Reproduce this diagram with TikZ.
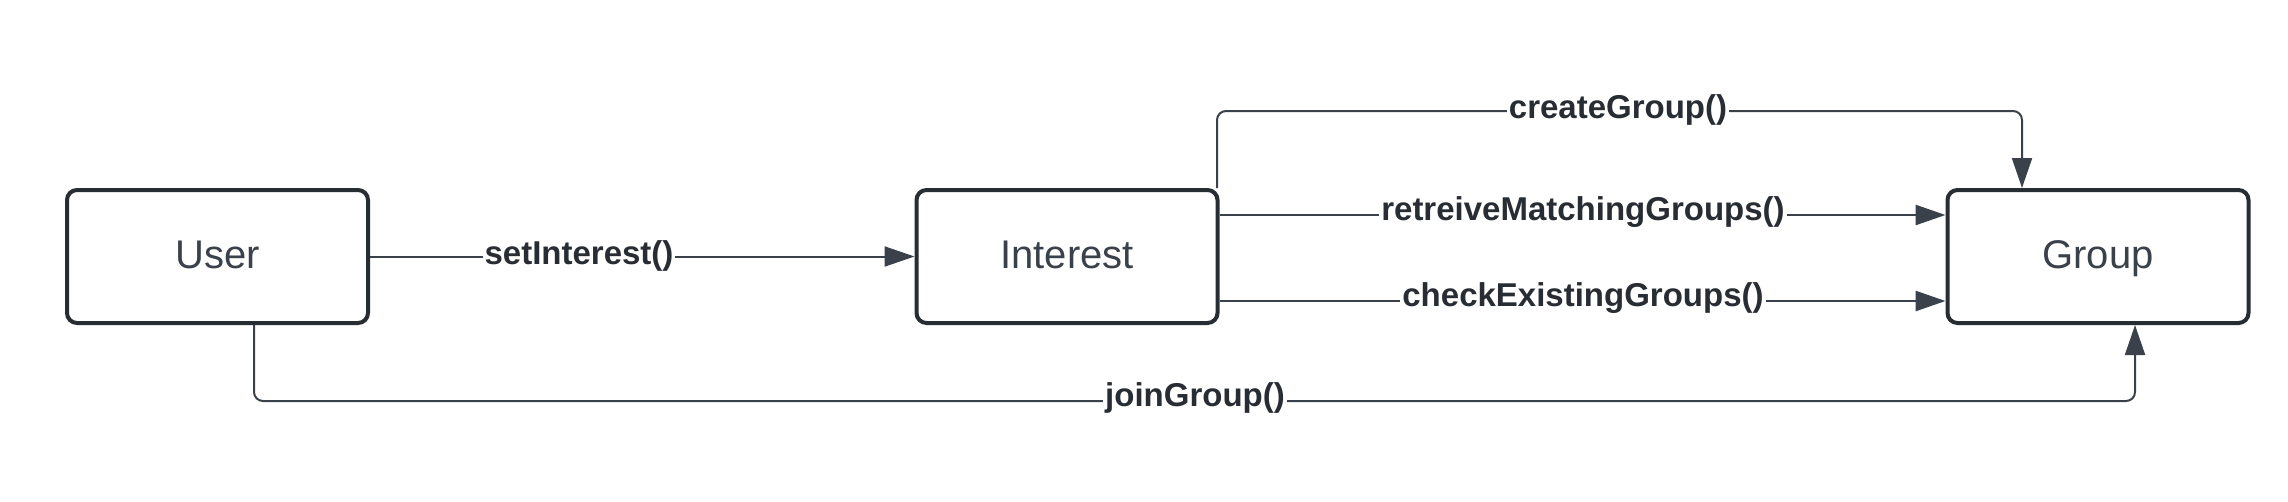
\documentclass[tikz,border=0pt]{standalone}
\usepackage{fontspec}
\setmainfont{Liberation Sans}
\usetikzlibrary{arrows.meta,calc}
\definecolor{boxc}{HTML}{282C33}
\definecolor{linec}{HTML}{3A414A}
\begin{document}
\begin{tikzpicture}[x=1pt,y=-1pt,
  entity/.style={draw=boxc,line width=4pt,rounded corners=10pt,fill=white,
    minimum width=301pt,minimum height=133pt,inner sep=0pt,
    text height=28.8pt,text depth=4.8pt,
    text=linec,font=\fontsize{40}{48}\selectfont},
  conn/.style={draw=linec,line width=2pt,rounded corners=9pt,
    -{Triangle[length=30pt,width=20pt]}},
  lbl/.style={fill=white,inner sep=2pt,text=boxc,
    font=\fontsize{33}{40}\selectfont\bfseries}]
\useasboundingbox[fill=white] (0,0) rectangle (2288,501);
\node[entity] (user) at (217.5,256.5) {User};
\node[entity] (interest) at (1067,256.5) {Interest};
\node[entity] (group) at (2098,256.5) {Group};
% setInterest
\draw[conn] (user.east) -- (interest.west);
\node[lbl] (l1) at (579,256) {setInterest()};
% createGroup
\coordinate (c1) at (1217,111);
\coordinate (c2) at (2022,111);
\draw[conn] (interest.north east -| c1) -- (c1) -- (c2) -- (group.north -| c2);
\node[lbl] (l2) at (1618,110) {createGroup()};
% retreive
\draw[conn,line width=2.6pt] ($(interest.east)+(0,-41.5)$) -- ($(group.west)+(0,-41.5)$);
\node[lbl] (l3) at (1583,212) {retreiveMatchingGroups()};
% check
\draw[conn,line width=2.6pt] ($(interest.east)+(0,44.5)$) -- ($(group.west)+(0,44.5)$);
\node[lbl] (l4) at (1583,298) {checkExistingGroups()};
% joinGroup
\coordinate (j1) at (254,401);
\coordinate (j2) at (2135,401);
\draw[conn] (user.south -| j1) -- (j1) -- (j2) -- (group.south -| j2);
\node[lbl] (l5) at (1195,398) {joinGroup()};
\end{tikzpicture}
\end{document}
